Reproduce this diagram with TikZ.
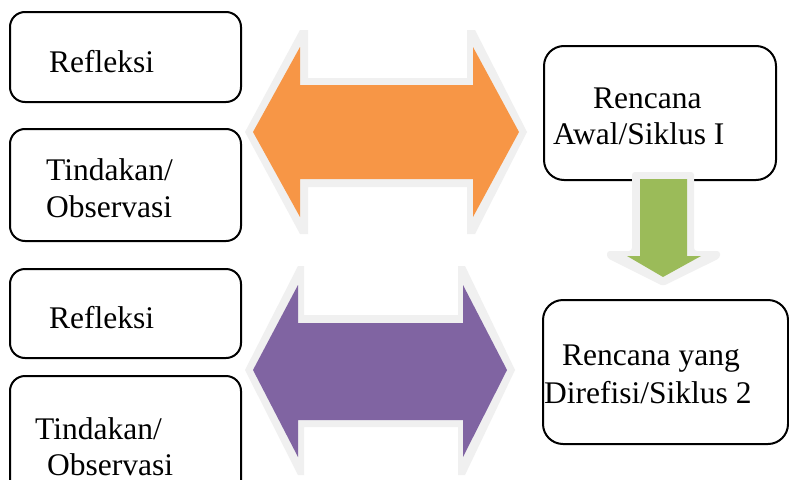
\documentclass[tikz,border=0pt]{standalone}
\usepackage{fontspec}
\setmainfont{Liberation Serif}
\definecolor{arOrange}{HTML}{F79646}
\definecolor{arPurple}{HTML}{8064A2}
\definecolor{arGreen}{HTML}{9BBB59}
\definecolor{arHalo}{HTML}{F0F0F0}
\begin{document}
\begin{tikzpicture}[x=1pt,y=-1pt,
  lbox/.style={draw=black, line width=2pt, rounded corners=15pt, rectangle, inner sep=0pt, fill=white},
  rbox/.style={draw=black, line width=2pt, rounded corners=20pt, rectangle, inner sep=0pt, fill=white},
  txt/.style={inner sep=0pt, anchor=base west, font=\fontsize{31.5}{36}\selectfont},
  halo/.style={fill=arHalo}]
\useasboundingbox (0,0) rectangle (789,479);
\clip (0,0) rectangle (789,479);
\fill[white] (0,0) rectangle (789,479);
% left boxes
\node[lbox, minimum width=231pt, minimum height=90pt] (b1) at (125.5,57) {};
\node[lbox, minimum width=231pt, minimum height=112pt] (b2) at (125.5,185) {};
\node[lbox, minimum width=231pt, minimum height=89pt] (b3) at (125.5,313.5) {};
\node[lbox, minimum width=231pt, minimum height=124pt] (b4) at (125.5,438) {};
% right boxes
\node[rbox, minimum width=232pt, minimum height=134pt] (ra) at (660,113) {};
\node[rbox, minimum width=245pt, minimum height=144pt] (rb) at (665.5,372) {};
% texts
\node[txt] (t1) at (49,72) {Refleksi};
\node[txt] (t2a) at (46,180) {Tindakan/};
\node[txt] (t2b) at (46,217) {Observasi};
\node[txt] (t3) at (49,328) {Refleksi};
\node[txt] (t4a) at (35,439) {Tindakan/};
\node[txt] (t4b) at (47,475) {Observasi};
\node[txt] (ta1) at (593,108) {Rencana};
\node[txt] (ta2) at (553,144) {Awal/Siklus I};
\node[txt] (tb1) at (562,365) {Rencana yang};
\node[txt] (tb2) at (544,403) {Direfisi/Siklus 2};
% orange double arrow
\fill[halo] (245,132) -- (300,30) -- (308,30) -- (308,78) -- (467,78) -- (467,30) -- (475,30) -- (527,132)
  -- (475,234) -- (467,234) -- (467,187) -- (308,187) -- (308,234) -- (300,234) -- cycle;
\fill[arOrange] (253,132) -- (300,47) -- (300,85) -- (473,85) -- (473,47) -- (519,132)
  -- (473,217) -- (473,179) -- (300,179) -- (300,217) -- cycle;
% purple double arrow
\fill[halo] (245,370) -- (298,266) -- (304,266) -- (304,315) -- (458,315) -- (458,266) -- (465,266) -- (515,370)
  -- (465,475) -- (458,475) -- (458,427) -- (304,427) -- (304,475) -- (298,475) -- cycle;
\fill[arPurple] (253,370) -- (298,285) -- (298,323) -- (463,323) -- (463,285) -- (507,370)
  -- (463,457) -- (463,420) -- (298,420) -- (298,457) -- cycle;
% green down arrow
\fill[halo, rounded corners=3pt] (632,172) -- (694,172) -- (694,251) -- (720,251) -- (720,258) -- (663,286)
  -- (607,258) -- (607,251) -- (632,251) -- cycle;
\fill[arGreen] (640,179) -- (687,179) -- (687,256) -- (701,256) -- (663,277) -- (627,256) -- (640,256) -- cycle;
\end{tikzpicture}
\end{document}
